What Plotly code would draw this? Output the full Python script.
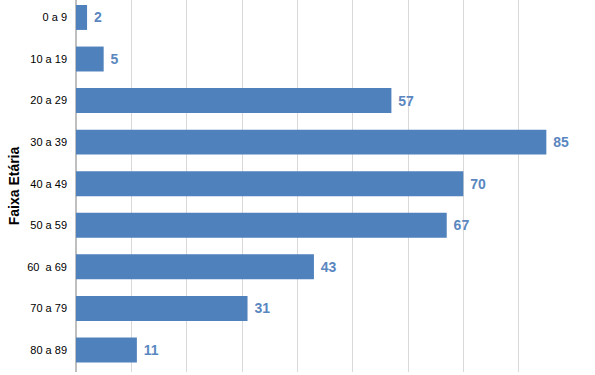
import plotly.graph_objects as go

categories = ["0 a 9", "10 a 19", "20 a 29", "30 a 39", "40 a 49", "50 a 59", "60  a 69", "70 a 79", "80 a 89"]
values = [2, 5, 57, 85, 70, 67, 43, 31, 11]

fig = go.Figure(go.Bar(
    y=categories, x=values, orientation="h",
    marker=dict(color="#4f81bd", line=dict(width=0)),
    text=[str(v) for v in values], textposition="outside",
    textfont=dict(family="Liberation Sans", size=14, color="#5a87bf"),
    texttemplate="&nbsp;<b>%{text}</b>", cliponaxis=False,
))
fig.update_layout(
    width=595, height=375,
    margin=dict(l=76, r=21, t=0, b=3, autoexpand=False),
    paper_bgcolor="white", plot_bgcolor="white",
    bargap=0.4, showlegend=False,
    font=dict(family="Liberation Sans", size=11, color="black"),
)
fig.update_xaxes(range=[0, 90], dtick=10, showticklabels=False, showgrid=True, automargin=False,
                 gridcolor="#d9d9d9", gridwidth=1, zeroline=True, zerolinecolor="#bfbfbf", showline=False)
fig.update_yaxes(range=[8.53, -0.42], showgrid=False, ticks="", ticklabelstandoff=8, automargin=False,
                 title=dict(text="<b>Faixa Etária</b>", font=dict(size=14, color="black"), standoff=4),
                 showline=False)
fig.write_html("out.html", config={"displayModeBar": False},
               post_script="document.body.style.margin='0';")
